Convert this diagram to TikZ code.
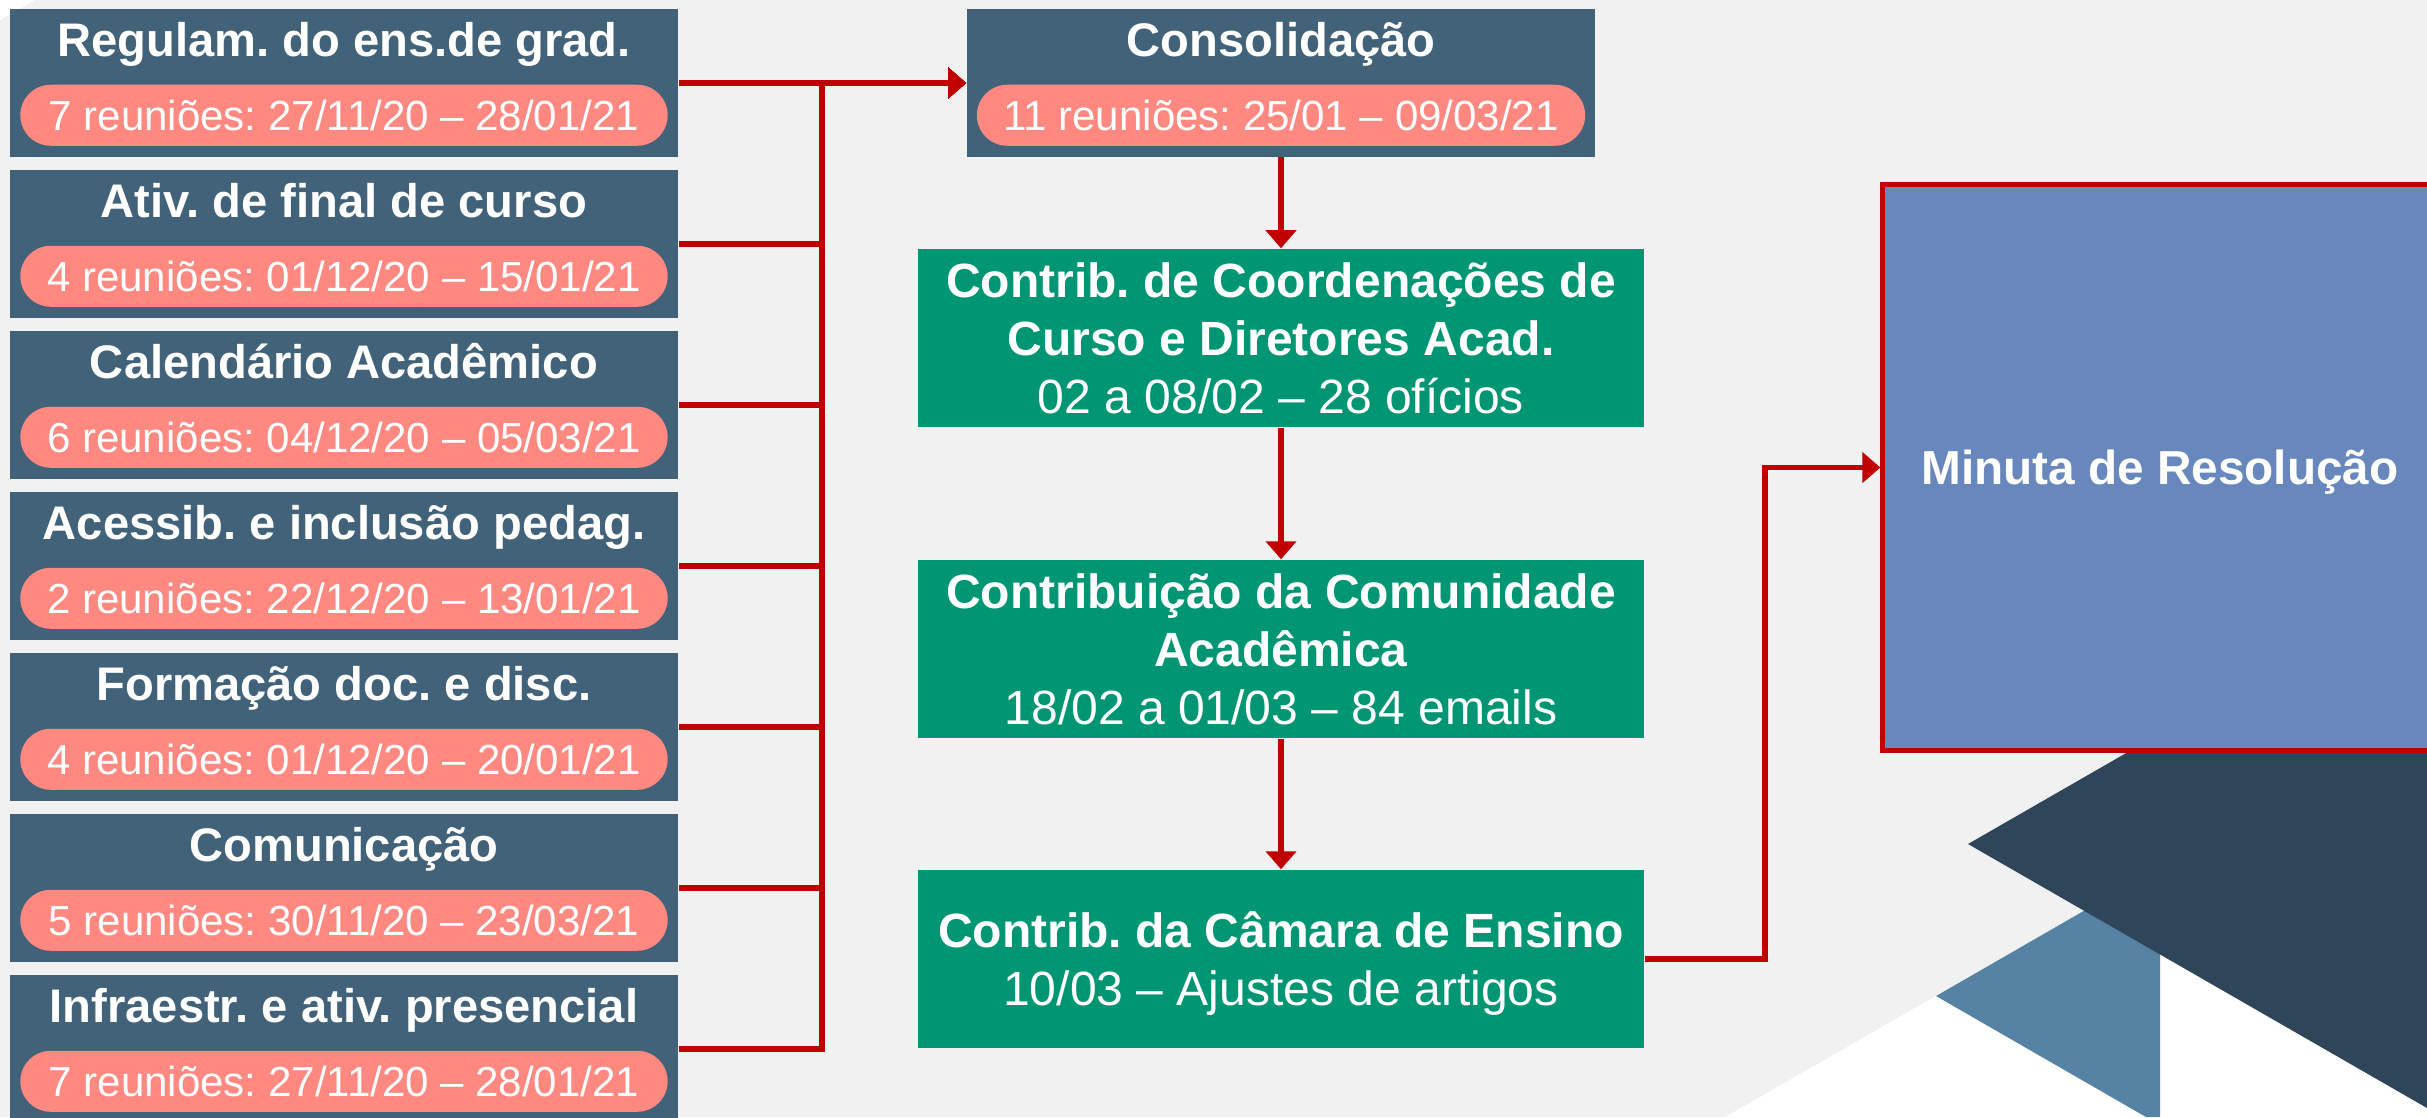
\documentclass[tikz,border=0pt]{standalone}
\usepackage{fontspec}
\setmainfont{Liberation Sans}
\usetikzlibrary{arrows.meta,calc}
\frenchspacing
\definecolor{bg}{HTML}{F0F1F0}
\definecolor{slate}{HTML}{416279}
\definecolor{pinkp}{HTML}{FF8880}
\definecolor{redc}{HTML}{C00000}
\definecolor{greenb}{HTML}{009673}
\definecolor{minuta}{HTML}{6887BC}
\definecolor{navy}{HTML}{2F455A}
\definecolor{steel}{HTML}{5683A3}
\newcommand\ftitle{\fontsize{13.4pt}{16pt}\selectfont\bfseries}
\newcommand\fpill{\fontsize{11.95pt}{14pt}\selectfont}
\newcommand\fgreen{\fontsize{13.66pt}{16.5pt}\selectfont}
\newcommand\fminuta{\fontsize{13.57pt}{16pt}\selectfont\bfseries}
\newcommand\grp[5]{%
  \node[lbox] (#1) at (#2,#3) {};
  \node[ltitle] (#1t) at ($(#1.north)+(0,48)$) {#4};
  \node[pill] (#1p) at ($(#1.north)+(0,106.5)$) {#5};}
\tikzset{
  lbox/.style={rectangle, fill=slate, minimum width=6.68cm, minimum height=1.47cm, inner sep=0pt},
  ltitle/.style={anchor=base, text=white, font=\ftitle, inner sep=0pt},
  pill/.style={rectangle, rounded corners=0.305cm, fill=pinkp, minimum width=6.47cm,
    minimum height=0.61cm, inner sep=0pt, text=white, font=\fpill, text height=0.30cm, text depth=0pt},
  gbox/.style={rectangle, fill=greenb, minimum width=7.26cm, minimum height=1.78cm,
    inner sep=0pt, text=white, font=\fgreen, align=center, text depth=0pt},
  mbox/.style={rectangle, draw=redc, line width=0.05cm, fill=minuta, minimum width=5.54cm,
    minimum height=5.65cm, inner sep=0pt, text=white, font=\fminuta, text height=0.34cm, text depth=0pt},
  conn/.style={draw=redc, line width=0.055cm, -{Triangle[length=0.18cm,width=0.30cm]}}
}
\begin{document}
\begin{tikzpicture}[x=0.01cm,y=-0.01cm]
\clip (0,0) rectangle (2427,1117);
\fill[bg] (0,0) rectangle (2427,1117);
% decorative shapes
\fill[white] (0,0) -- (35,0) -- (0,20) -- cycle;
\fill[white] (1725,1117) -- (2427,714) -- (2427,1117) -- cycle;
\fill[steel] (1936,996) -- (2160,867) -- (2160,1117) -- (2146,1117) -- cycle;
\fill[navy] (1968,844) -- (2427,580) -- (2427,1108) -- cycle;
% left groups
\grp{b1}{344}{83}{Regulam. do ens.de grad.}{7 reuniões: 27/11/20 – 28/01/21}
\grp{b2}{344}{244}{Ativ. de final de curso}{4 reuniões: 01/12/20 – 15/01/21}
\grp{b3}{344}{405}{Calendário Acadêmico}{6 reuniões: 04/12/20 – 05/03/21}
\grp{b4}{344}{566}{Acessib. e inclusão pedag.}{2 reuniões: 22/12/20 – 13/01/21}
\grp{b5}{344}{727}{Formação doc. e disc.}{4 reuniões: 01/12/20 – 20/01/21}
\grp{b6}{344}{888}{Comunicação}{5 reuniões: 30/11/20 – 23/03/21}
\grp{b7}{344}{1049}{Infraestr. e ativ. presencial}{7 reuniões: 27/11/20 – 28/01/21}
% consolidation
\node[lbox, minimum width=6.28cm] (cons) at (1281,83) {};
\node[ltitle] (const) at ($(cons.north)+(0,48)$) {Consolidação};
\node[pill, minimum width=6.08cm] (consp) at ($(cons.north)+(0,106.5)$) {11 reuniões: 25/01 – 09/03/21};
% green boxes
\node[gbox] (g1) at (1281,338) {\textbf{Contrib. de Coordenações de}\\\textbf{Curso e Diretores Acad.}\\02 a 08/02 – 28 ofícios};
\node[gbox] (g2) at (1281,649) {\textbf{Contribuição da Comunidade}\\\textbf{Acadêmica}\\18/02 a 01/03 – 84 emails};
\node[gbox] (g3) at (1281,959) {\textbf{Contrib. da Câmara de Ensino}\\10/03 – Ajustes de artigos};
% minuta
\node[mbox] (mr) at (2160,467.5) {Minuta de Resolução};
% connectors
\coordinate (bus) at (822,0);
\coordinate (elb) at (1765,0);
\draw[conn] (b1.east) -- (cons.west);
\foreach \k in {2,...,7}
  \draw[conn] (b\k.east) -- (b\k.east -| bus) -- (bus |- cons.west) -- (cons.west);
\draw[conn] (cons.south) -- (g1.north);
\draw[conn] (g1.south) -- (g2.north);
\draw[conn] (g2.south) -- (g3.north);
\draw[conn] (g3.east) -- (g3.east -| elb) -- (elb |- mr.west) -- (mr.west);
\end{tikzpicture}
\end{document}
